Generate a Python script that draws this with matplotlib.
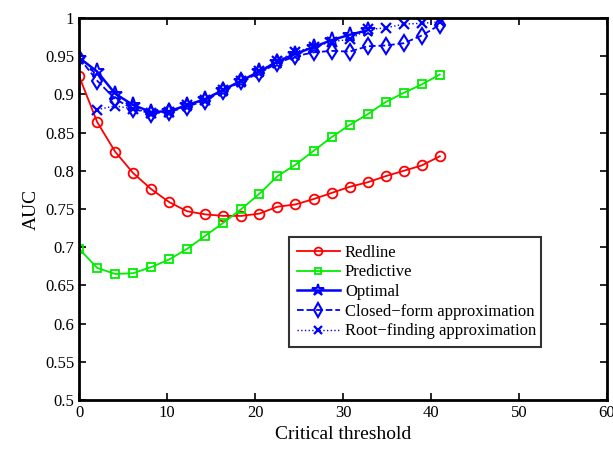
import matplotlib
matplotlib.use("Agg")
import matplotlib.pyplot as plt
import numpy as np
from matplotlib.ticker import FuncFormatter

# critical threshold values (21 points, step ~2.05)
thresholds = [0, 2.05, 4.1, 6.15, 8.2, 10.25, 12.3, 14.35, 16.4, 18.45, 20.5,
              22.55, 24.6, 26.65, 28.7, 30.75, 32.8, 34.85, 36.9, 38.95, 41.0]

redline = [0.924, 0.864, 0.825, 0.797, 0.776, 0.759, 0.747, 0.743, 0.741, 0.741, 0.744,
           0.753, 0.756, 0.763, 0.771, 0.779, 0.785, 0.793, 0.800, 0.807, 0.819]
predictive = [0.698, 0.673, 0.665, 0.666, 0.674, 0.684, 0.698, 0.715, 0.732, 0.750, 0.770,
              0.793, 0.808, 0.826, 0.844, 0.860, 0.874, 0.890, 0.902, 0.913, 0.926]
optimal = [0.948, 0.930, 0.901, 0.886, 0.877, 0.878, 0.886, 0.894, 0.906, 0.918, 0.930,
           0.943, 0.953, 0.962, 0.971, 0.978, 0.984]
closed_form = [0.948, 0.918, 0.894, 0.881, 0.875, 0.877, 0.884, 0.892, 0.905, 0.917, 0.928,
               0.941, 0.950, 0.955, 0.957, 0.956, 0.963, 0.964, 0.967, 0.977, 0.991]
root_finding = [0.880, 0.885, 0.881, 0.876, 0.877, 0.886, 0.893, 0.906, 0.918, 0.930,
                0.944, 0.956, 0.962, 0.969, 0.972, 0.985, 0.987, 0.992, 0.993, 0.995]

plt.rcParams['font.family'] = ['Liberation Serif', 'DejaVu Serif']

fig = plt.figure(figsize=(6.13, 4.5), dpi=100)
ax = fig.add_axes([0.129, 0.111, 0.861, 0.849])

x = np.array(thresholds)
ax.plot(x, redline, '-o', color='#ff0000', lw=1.3, ms=7, mfc='none', mew=1.3, label='Redline')
ax.plot(x, predictive, '-s', color='#00ee00', lw=1.3, ms=5.5, mfc='none', mew=1.3, label='Predictive')
ax.plot(x[:len(optimal)], optimal, '-*', color='#0000ff', lw=1.8, ms=11, mfc='none', mew=1.4, label='Optimal')
ax.plot(x, closed_form, '--d', color='#0000ff', lw=1.3, ms=8.5, mfc='none', mew=1.5, label='Closed\u2212form approximation')
ax.plot(x[1:], root_finding, ':x', color='#0000ff', lw=1.0, ms=7.5, mew=1.6, label='Root\u2212finding approximation')

ax.set_xlim(0, 60)
ax.set_ylim(0.5, 1)
ax.set_xticks(np.arange(0, 61, 10))
ax.set_yticks(np.arange(0.5, 1.001, 0.05))
ax.yaxis.set_major_formatter(FuncFormatter(lambda v, p: '%g' % round(v, 2)))
ax.tick_params(direction='in', top=True, right=True, length=5, width=1.2, labelsize=12)
for s in ax.spines.values():
    s.set_linewidth(2)

ax.set_xlabel('Critical threshold', fontsize=14)
ax.set_ylabel('AUC', fontsize=14)

leg = ax.legend(loc='lower left', bbox_to_anchor=(0.398, 0.139, 0.477, 0.288), mode='expand',
                fontsize=12, frameon=True, fancybox=False, edgecolor='black',
                handlelength=2.6, borderpad=0.45, labelspacing=0.22, handletextpad=0.3,
                borderaxespad=0, markerscale=0.8)
leg.get_frame().set_linewidth(1.5)

fig.savefig('out.png', dpi=100)
